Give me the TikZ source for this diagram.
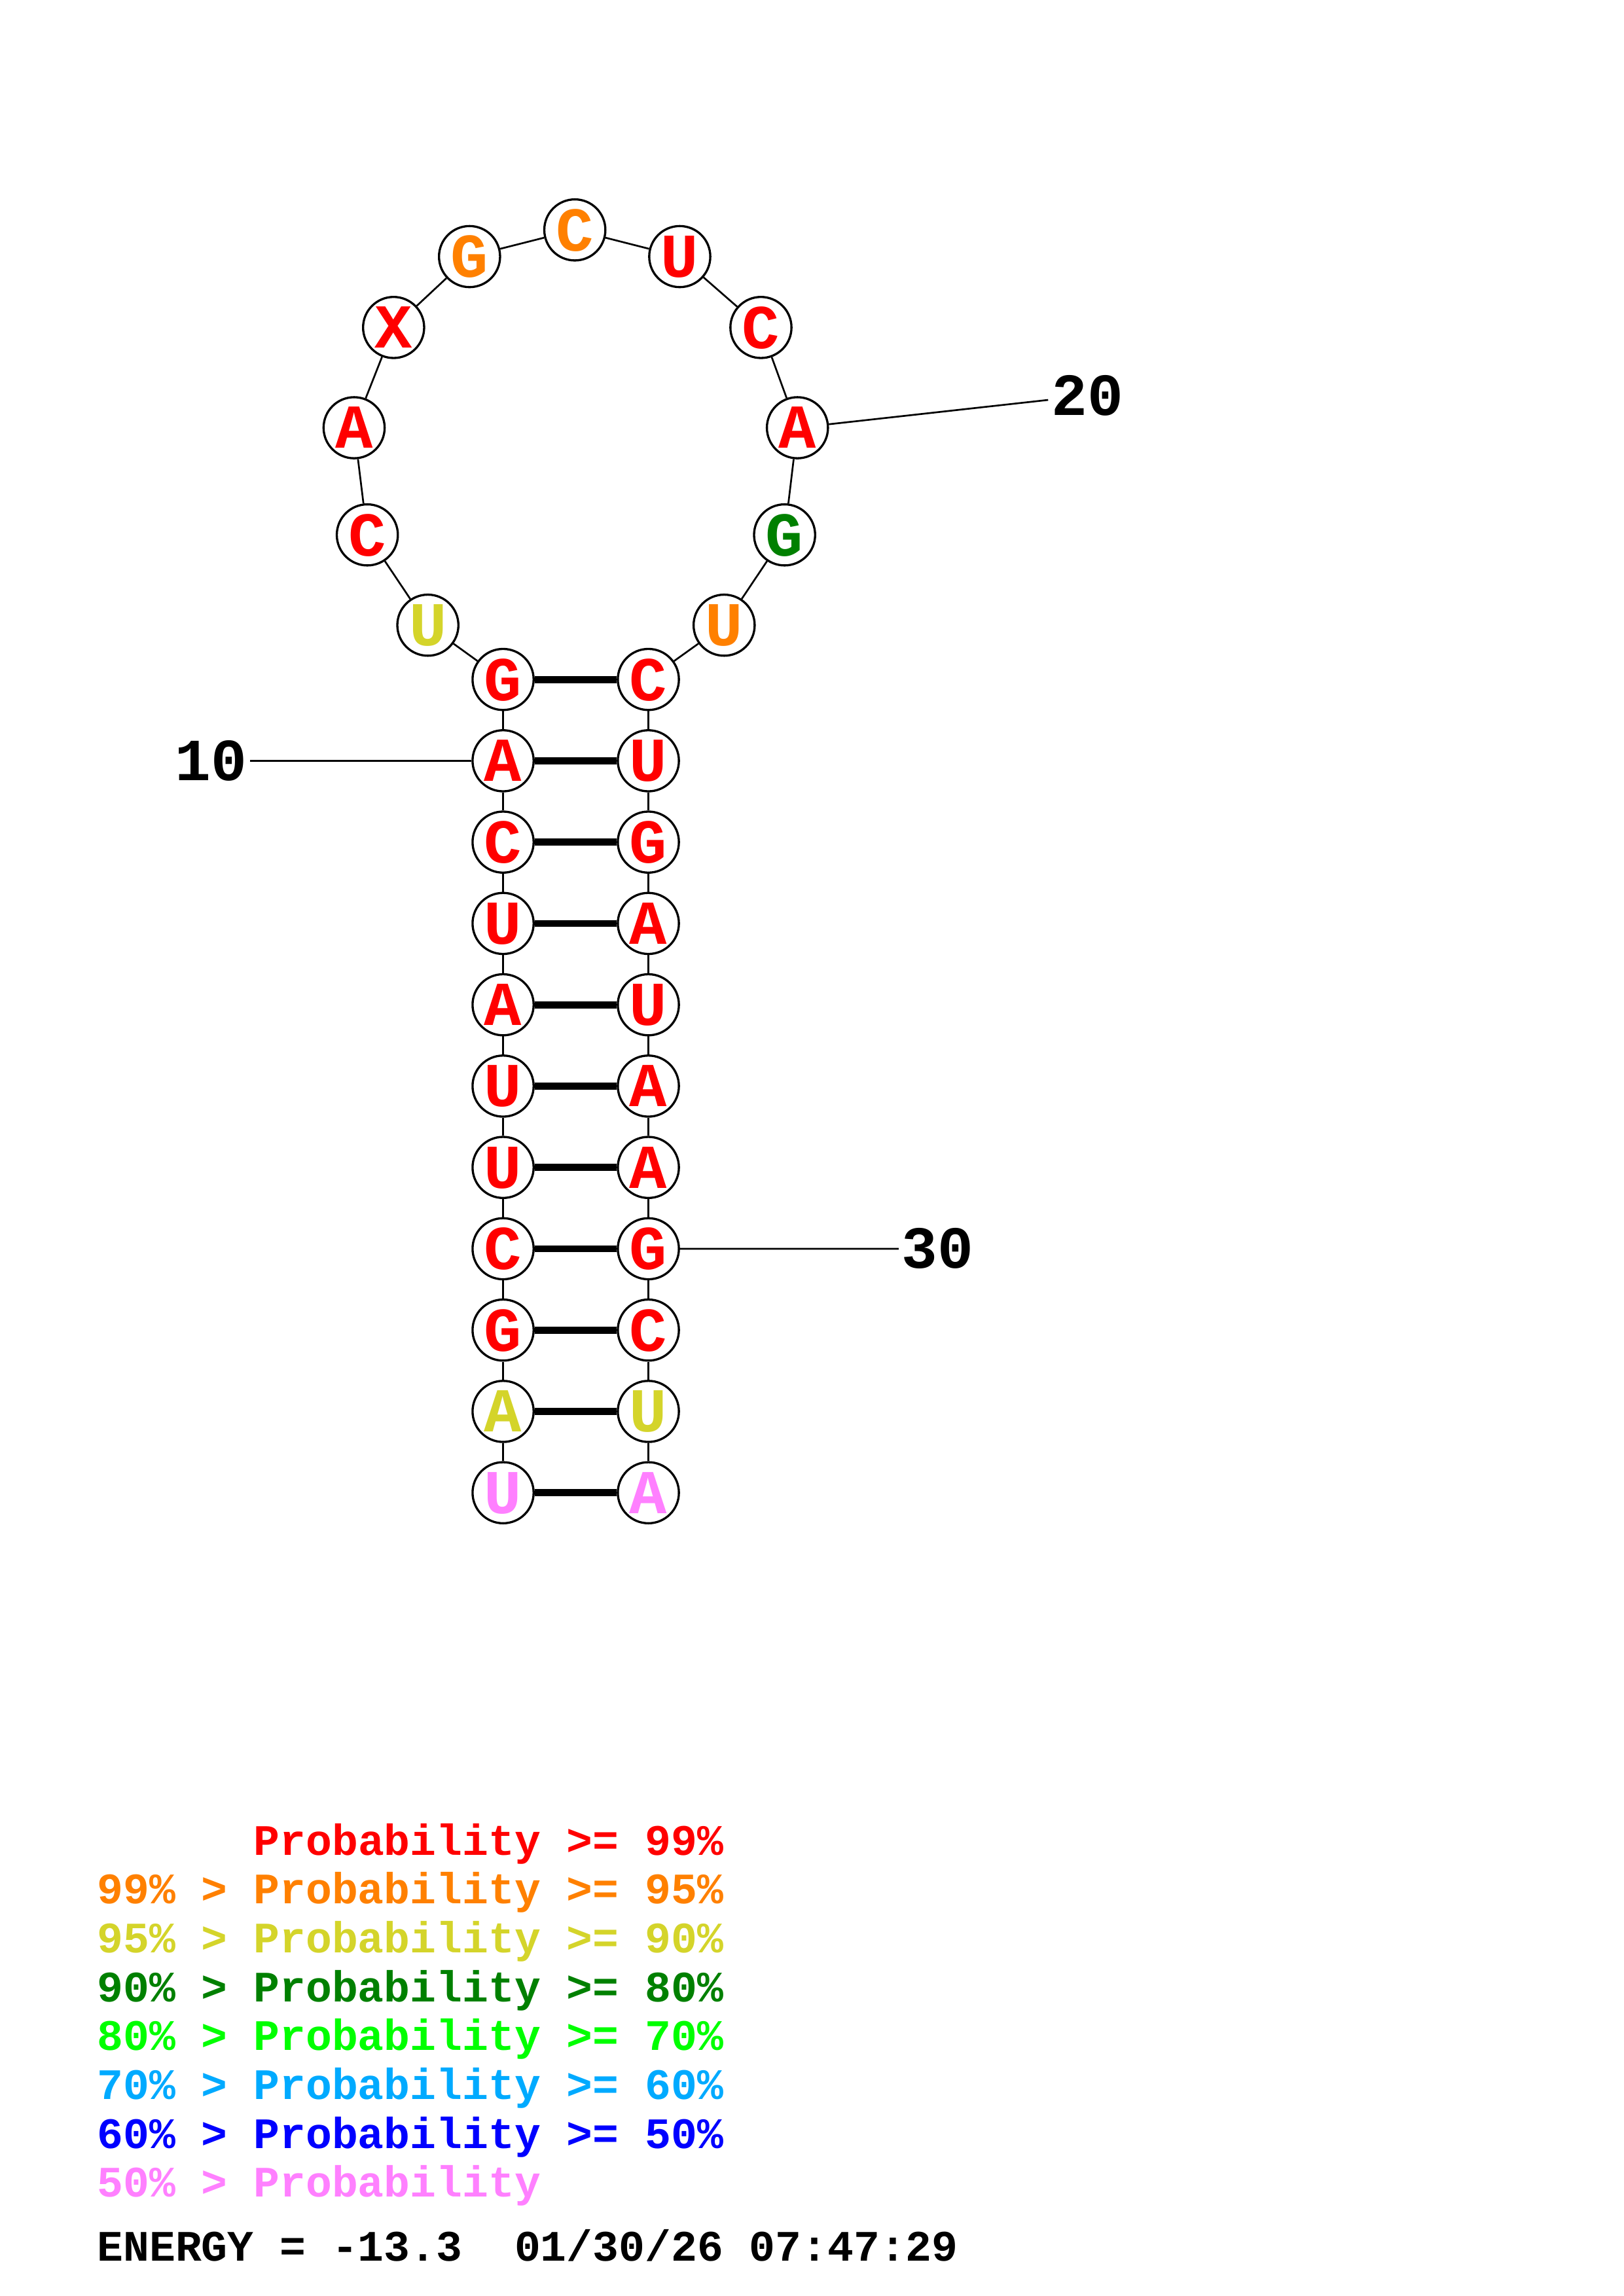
\documentclass[tikz,border=0pt]{standalone}
\usepackage{fontspec}
\setmainfont{Liberation Mono}
\usetikzlibrary{positioning}

\definecolor{pred}{RGB}{255,0,0}
\definecolor{porange}{RGB}{255,128,0}
\definecolor{pyellow}{RGB}{212,212,42}
\definecolor{pdkgreen}{RGB}{0,128,0}
\definecolor{pgreen}{RGB}{0,255,0}
\definecolor{plblue}{RGB}{0,170,255}
\definecolor{pblue}{RGB}{0,0,255}
\definecolor{ppink}{RGB}{255,128,255}

\begin{document}
\begin{tikzpicture}[
    nt/.style={circle, draw, line width=0.8pt, fill=white,
      minimum size=0.79cm, inner sep=0pt, text depth=0pt,
      font=\fontsize{23}{23}\selectfont\bfseries},
    bb/.style={line width=0.65pt},
    bp/.style={line width=2.6pt},
    num/.style={inner sep=1pt, font=\fontsize{22}{22}\selectfont\bfseries},
    leg/.style={anchor=base west, inner sep=0pt,
      font=\fontsize{16}{16}\selectfont\bfseries},
    node distance=1.052cm]

    \useasboundingbox (0,0) rectangle (21,-29.7);

    % left strand of the stem, top to bottom
    \node[nt, text=pred] (n11) at (6.507,-8.789) {G};
    \node[nt, text=pred, below of=n11] (n10) {A};
    \node[nt, text=pred, below of=n10] (n9) {C};
    \node[nt, text=pred, below of=n9] (n8) {U};
    \node[nt, text=pred, below of=n8] (n7) {A};
    \node[nt, text=pred, below of=n7] (n6) {U};
    \node[nt, text=pred, below of=n6] (n5) {U};
    \node[nt, text=pred, below of=n5] (n4) {C};
    \node[nt, text=pred, below of=n4] (n3) {G};
    \node[nt, text=pyellow, below of=n3] (n2) {A};
    \node[nt, text=ppink, below of=n2] (n1) {U};

    % hairpin loop
    \node[nt, text=pyellow] (n12) at (5.534,-8.087) {U};
    \node[nt, text=pred] (n13) at (4.751,-6.919) {C};
    \node[nt, text=pred] (n14) at (4.580,-5.533) {A};
    \node[nt, text=pred] (n15) at (5.091,-4.236) {X};
    \node[nt, text=porange] (n16) at (6.073,-3.319) {G};
    \node[nt, text=porange] (n17) at (7.435,-2.974) {C};
    \node[nt, text=pred] (n18) at (8.792,-3.319) {U};
    \node[nt, text=pred] (n19) at (9.842,-4.236) {C};
    \node[nt, text=pred] (n20) at (10.314,-5.533) {A};
    \node[nt, text=pdkgreen] (n21) at (10.148,-6.919) {G};
    \node[nt, text=porange] (n22) at (9.366,-8.087) {U};

    % right strand of the stem, top to bottom
    \node[nt, text=pred] (n23) at (8.386,-8.789) {C};
    \node[nt, text=pred, below of=n23] (n24) {U};
    \node[nt, text=pred, below of=n24] (n25) {G};
    \node[nt, text=pred, below of=n25] (n26) {A};
    \node[nt, text=pred, below of=n26] (n27) {U};
    \node[nt, text=pred, below of=n27] (n28) {A};
    \node[nt, text=pred, below of=n28] (n29) {A};
    \node[nt, text=pred, below of=n29] (n30) {G};
    \node[nt, text=pred, below of=n30] (n31) {C};
    \node[nt, text=pyellow, below of=n31] (n32) {U};
    \node[nt, text=ppink, below of=n32] (n33) {A};

    % backbone
    \draw[bb] (n1)--(n2)--(n3)--(n4)--(n5)--(n6)--(n7)--(n8)--(n9)--(n10)--(n11);
    \draw[bb] (n11)--(n12)--(n13)--(n14)--(n15)--(n16)--(n17)--(n18)--(n19)--(n20)--(n21)--(n22)--(n23);
    \draw[bb] (n23)--(n24)--(n25)--(n26)--(n27)--(n28)--(n29)--(n30)--(n31)--(n32)--(n33);

    % base pairs
    \draw[bp] (n11)--(n23);
    \draw[bp] (n10)--(n24);
    \draw[bp] (n9)--(n25);
    \draw[bp] (n8)--(n26);
    \draw[bp] (n7)--(n27);
    \draw[bp] (n6)--(n28);
    \draw[bp] (n5)--(n29);
    \draw[bp] (n4)--(n30);
    \draw[bp] (n3)--(n31);
    \draw[bp] (n2)--(n32);
    \draw[bp] (n1)--(n33);

    % position numbers
    \node[num] (lab10) at (2.729,-9.841) {10};
    \node[num] (lab20) at (14.063,-5.117) {20};
    \node[num] (lab30) at (12.130,-16.153) {30};
    \draw[bb] (n10)--(lab10);
    \draw[bb] (n20)--(lab20);
    \draw[bb] (n30)--(lab30);

    % legend
    \node[leg, text=pred] (leg1) at (1.25,-23.995) {\hphantom{99\% > }Probability >= 99\%};
    \node[leg, text=porange] (leg2) at (1.25,-24.627) {99\% > Probability >= 95\%};
    \node[leg, text=pyellow] (leg3) at (1.25,-25.259) {95\% > Probability >= 90\%};
    \node[leg, text=pdkgreen] (leg4) at (1.25,-25.891) {90\% > Probability >= 80\%};
    \node[leg, text=pgreen] (leg5) at (1.25,-26.523) {80\% > Probability >= 70\%};
    \node[leg, text=plblue] (leg6) at (1.25,-27.155) {70\% > Probability >= 60\%};
    \node[leg, text=pblue] (leg7) at (1.25,-27.787) {60\% > Probability >= 50\%};
    \node[leg, text=ppink] (leg8) at (1.25,-28.419) {50\% > Probability};
    \node[leg] (energy) at (1.25,-29.245) {ENERGY = -13.3\ \ 01/30/26 07:47:29};
\end{tikzpicture}
\end{document}
